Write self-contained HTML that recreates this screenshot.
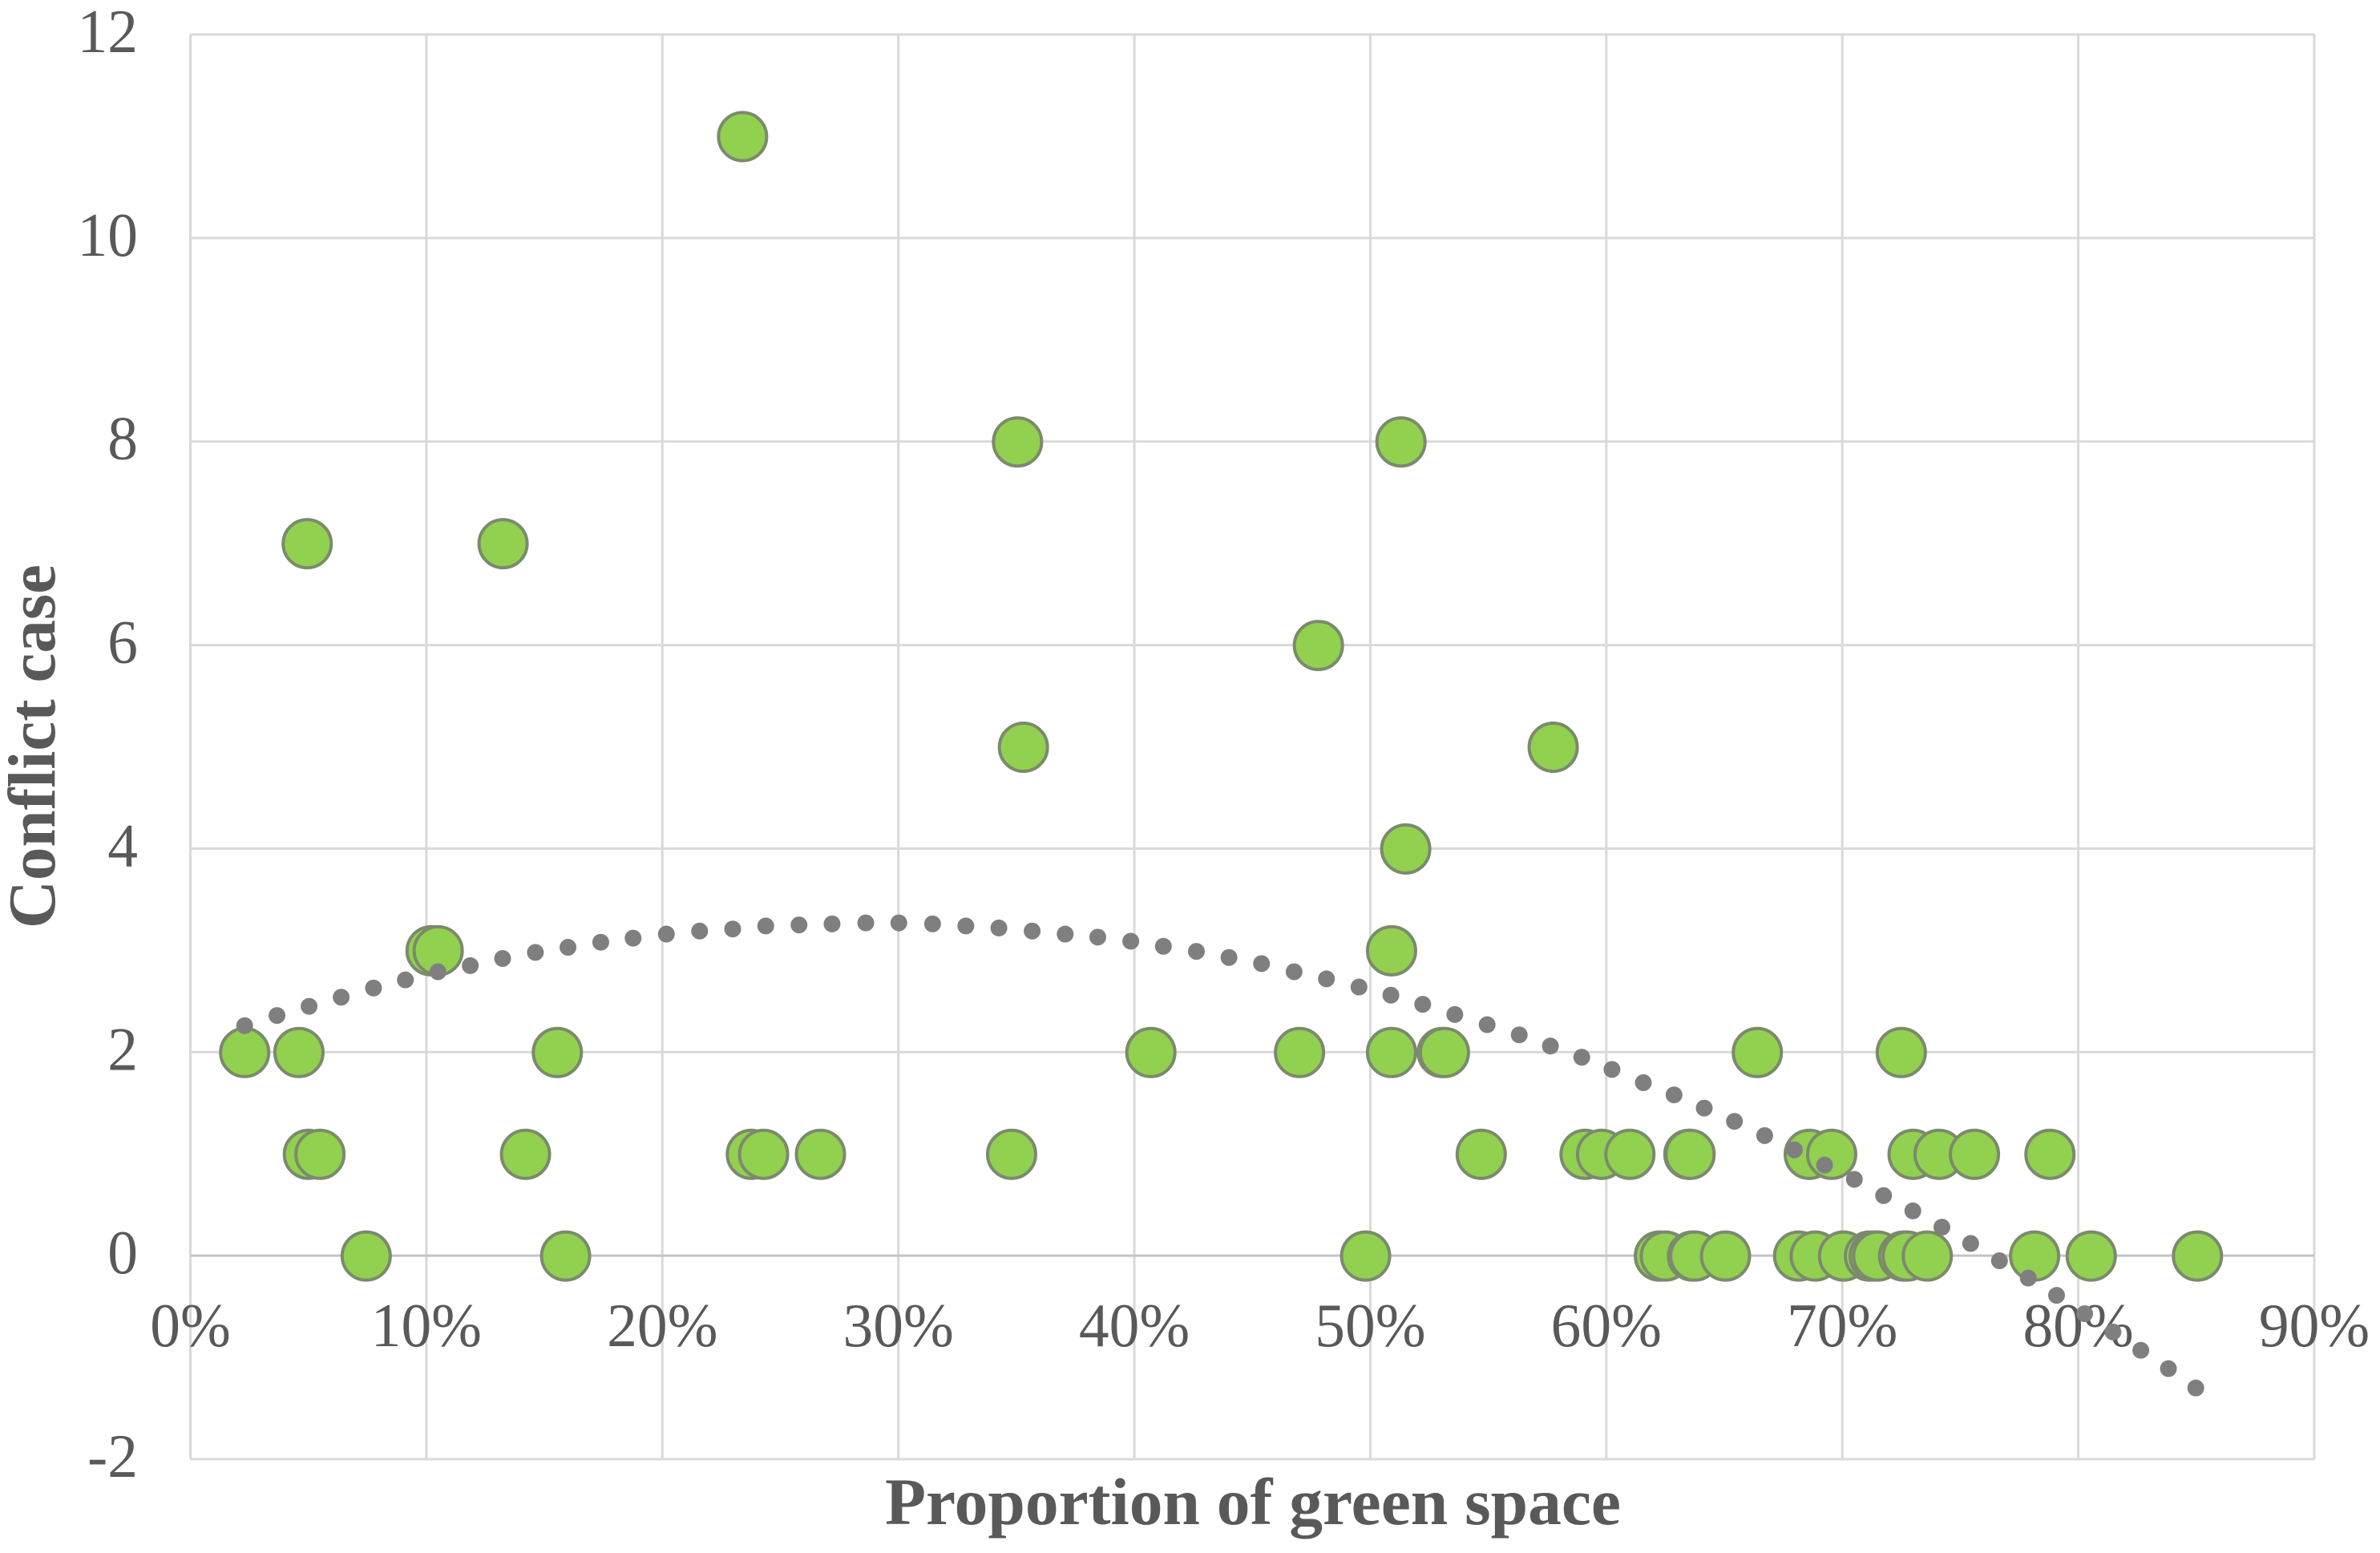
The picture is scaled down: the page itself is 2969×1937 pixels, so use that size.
<!DOCTYPE html>
<html lang="en">
<head>
<meta charset="utf-8">
<title>Conflict case vs proportion of green space</title>
<style>
html,body{margin:0;padding:0;background:#fff;width:2969px;height:1937px;overflow:hidden}
svg{display:block}
text{font-family:"Liberation Serif",serif;fill:#595959}
</style>
</head>
<body>
<svg id="chart" xmlns="http://www.w3.org/2000/svg" width="2969" height="1937" viewBox="0 0 2969 1937">
  <rect width="2969" height="1937" fill="#ffffff"/>
  <g id="grid"></g>
  <g id="xticks"></g>
  <g id="yticks"></g>
  <g id="points"></g>
  <g id="trend"></g>
  <text x="1104" y="1901" font-size="83" font-weight="bold" textLength="918" lengthAdjust="spacingAndGlyphs">Proportion of green space</text>
  <text transform="translate(68,1158) rotate(-90)" font-size="84" font-weight="bold" textLength="454" lengthAdjust="spacingAndGlyphs">Conflict case</text>
</svg>
<script>
const xTickValues = [0, 10, 20, 30, 40, 50, 60, 70, 80, 90];
const yTickValues = [-2, 0, 2, 4, 6, 8, 10, 12];

const pointShare = [
  23.4,
  35.05, 51.3,
  4.95, 13.25,
  47.8,
  35.3, 57.75,
  51.5,
  10.2, 10.5, 50.9,
  2.3, 4.6, 15.55, 40.7, 47.0, 50.9, 53.05, 53.14, 66.4, 72.5,
  5.0, 5.49, 14.2, 23.77, 24.29, 26.7, 34.8, 54.7, 59.1, 59.8, 61.0, 63.5, 63.55, 68.6, 69.55, 73.0, 74.1, 75.6, 78.8,
  7.45, 15.9, 49.8, 62.25, 62.5, 63.65, 63.75, 65.05, 68.15, 68.85, 70.05, 71.15, 71.35, 71.5, 72.6, 72.75, 73.6, 78.15, 80.55, 85.05
];
const pointCases = [
  11,
  8, 8,
  7, 7,
  6,
  5, 5,
  4,
  3, 3, 3,
  2, 2, 2, 2, 2, 2, 2, 2, 2, 2,
  1, 1, 1, 1, 1, 1, 1, 1, 1, 1, 1, 1, 1, 1, 1, 1, 1, 1, 1,
  0, 0, 0, 0, 0, 0, 0, 0, 0, 0, 0, 0, 0, 0, 0, 0, 0, 0, 0, 0
];

const trendShare = [
  2.30, 3.67, 5.03, 6.39, 7.76, 9.11, 10.49, 11.86, 13.23, 14.62, 16.00, 17.39, 18.76,
  20.17, 21.58, 22.98, 24.38, 25.79, 27.19, 28.62, 30.02, 31.45, 32.86, 34.26, 35.67, 37.07, 38.45, 39.85,
  41.23, 42.63, 44.01, 45.39, 46.77, 48.14, 49.52, 50.87, 52.22, 53.58, 54.95, 56.31, 57.63, 58.96,
  60.24, 61.57, 62.87, 64.15, 65.43, 66.71, 67.97, 69.25, 70.51, 71.75, 72.99, 74.22, 75.44, 76.66, 77.88,
  79.08, 80.27, 81.47, 82.65, 83.82, 84.98
];
const trendCases = [
  2.26, 2.36, 2.45, 2.54, 2.63, 2.71, 2.79, 2.85, 2.92, 2.98, 3.03, 3.08, 3.12,
  3.16, 3.19, 3.21, 3.24, 3.25, 3.26, 3.27, 3.27, 3.26, 3.24, 3.22, 3.19, 3.16, 3.13, 3.09,
  3.04, 2.99, 2.93, 2.87, 2.79, 2.72, 2.64, 2.56, 2.47, 2.37, 2.27, 2.17, 2.06, 1.95,
  1.83, 1.70, 1.58, 1.45, 1.32, 1.18, 1.04, 0.89, 0.75, 0.59, 0.44, 0.28, 0.12, -0.05, -0.22,
  -0.39, -0.57, -0.75, -0.93, -1.11, -1.30
];

const NS = 'http://www.w3.org/2000/svg';
const plotLeft = 237.5, plotRight = 2887, plotTop = 43, plotBottom = 1820;
const xMin = 0, xMax = 90, yMin = -2, yMax = 12;

function xScale(v) { return plotLeft + (v - xMin) / (xMax - xMin) * (plotRight - plotLeft); }
function yScale(v) { return plotBottom - (v - yMin) / (yMax - yMin) * (plotBottom - plotTop); }

function make(tag, attrs, parent) {
  const el = document.createElementNS(NS, tag);
  for (const k in attrs) el.setAttribute(k, attrs[k]);
  parent.appendChild(el);
  return el;
}

const gridG = document.getElementById('grid');
const xTickG = document.getElementById('xticks');
const yTickG = document.getElementById('yticks');
const pointG = document.getElementById('points');
const trendG = document.getElementById('trend');

xTickValues.forEach(function (v) {
  const line = make('line', { x1: xScale(v), x2: xScale(v), y1: plotTop, y2: plotBottom, stroke: '#d9d9d9', 'stroke-width': 3 }, gridG);
  
  
  const label = make('text', { transform: 'translate(' + xScale(v) + ',1679) scale(0.98,1)', 'text-anchor': 'middle', 'font-size': 77 }, xTickG);
  label.textContent = v + '%';
  
  
});

yTickValues.forEach(function (v) {
  const line = make('line', { x1: plotLeft, x2: plotRight, y1: yScale(v), y2: yScale(v), stroke: v === 0 ? '#c4c4c4' : '#d9d9d9', 'stroke-width': 3 }, gridG);
  
  
  const label = make('text', { transform: 'translate(172,' + (yScale(v) + 22) + ') scale(0.98,1)', 'text-anchor': 'end', 'font-size': 77 }, yTickG);
  label.textContent = String(v);
  
  
});

pointShare.forEach(function (share, i) {
  const c = make('circle', { cx: xScale(share), cy: yScale(pointCases[i]) + 0.5, r: 30, fill: '#92d050', stroke: '#7b8a6c', 'stroke-width': 4 }, pointG);
  
  
});

trendShare.forEach(function (share, i) {
  const d = make('circle', { cx: xScale(share), cy: yScale(trendCases[i]), r: 10.5, fill: '#7f7f7f' }, trendG);
  
  
});
</script>
</body>
</html>
